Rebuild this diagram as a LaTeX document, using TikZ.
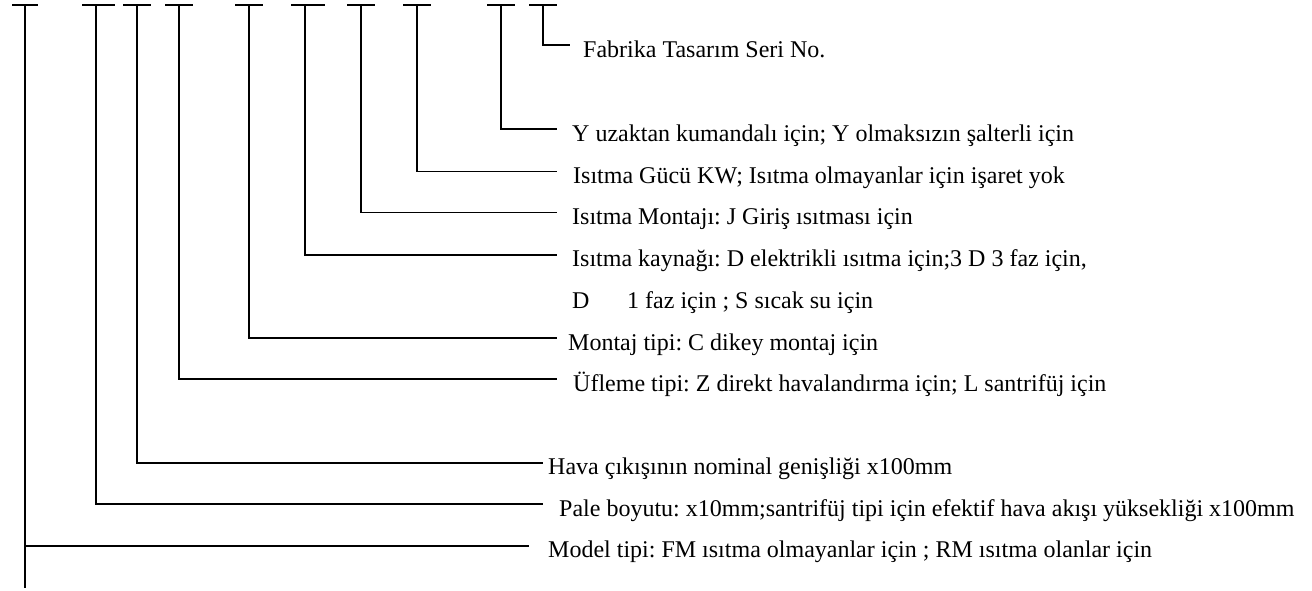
\documentclass[tikz,border=0pt]{standalone}
\usepackage{fontspec}
\setmainfont{Liberation Serif}
\frenchspacing
\begin{document}
\begin{tikzpicture}[x=1pt,y=-1pt,
  ln/.style={line width=1.8pt,line cap=butt},
  lbl/.style={anchor=base west,inner sep=0pt,font=\fontsize{24}{28}\selectfont\frenchspacing}]
\useasboundingbox (0,0) rectangle (1312,590);
% T tops
\coordinate (t1) at (25,5);
\coordinate (t2) at (96,5);
\coordinate (t3) at (137,5);
\coordinate (t4) at (179,5);
\coordinate (t5) at (249,5);
\coordinate (t6) at (305,5);
\coordinate (t7) at (361,5);
\coordinate (t8) at (417,5);
\coordinate (t9) at (501,5);
\coordinate (t10) at (543,5);
\foreach \c/\a/\b in {t1/12/38, t2/82/115, t3/123/151, t4/165/193, t5/235/263, t6/291/325, t7/347/375, t8/403/431, t9/487/515, t10/529/557}
  \draw[ln] (\a,5) -- (\b,5);
% line ends
\coordinate (e10) at (570,45);
\coordinate (e9) at (557,129);
\coordinate (e8) at (557,171.5);
\coordinate (e7) at (557,212.5);
\coordinate (e6) at (557,255);
\coordinate (e5) at (557,338);
\coordinate (e4) at (557,379);
\coordinate (e3) at (543,463);
\coordinate (e2) at (543,504);
\coordinate (e1) at (529,546);
\coordinate (bot) at (25,588);
\draw[ln] (t10) |- (e10);
\draw[ln] (t9) |- (e9);
\draw[ln] (t8) |- (e8);
\draw[ln] (t7) |- (e7);
\draw[ln] (t6) |- (e6);
\draw[ln] (t5) |- (e5);
\draw[ln] (t4) |- (e4);
\draw[ln] (t3) |- (e3);
\draw[ln] (t2) |- (e2);
\draw[ln] (t1) -- (bot);
\draw[ln] (t1 |- e1) -- (e1);
% labels
\node[lbl] (l10) at (583,57) {Fabrika Tasarım Seri No.};
\node[lbl] (l9) at (572,141) {Y uzaktan kumandalı için; Y olmaksızın şalterli için};
\node[lbl] (l8) at (573,183) {Isıtma Gücü KW; Isıtma olmayanlar için işaret yok};
\node[lbl] (l7) at (572,224) {Isıtma Montajı: J Giriş ısıtması için};
\node[lbl] (l6) at (572,266) {Isıtma kaynağı: D elektrikli ısıtma için;3 D 3 faz için,};
\node[lbl] (l6b) at (572,308) {D};
\node[lbl] (l6c) at (627,308) {1 faz için ; S sıcak su için};
\node[lbl] (l5) at (568,350) {Montaj tipi: C dikey montaj için};
\node[lbl] (l4) at (573,391) {Üfleme tipi: Z direkt havalandırma için; L santrifüj için};
\node[lbl] (l3) at (548,474.5) {Hava çıkışının nominal genişliği x100mm};
\node[lbl] (l2) at (559,516) {Pale boyutu: x10mm;santrifüj tipi için efektif hava akışı yüksekliği x100mm};
\node[lbl] (l1) at (548,557.5) {Model tipi: FM ısıtma olmayanlar için ; RM ısıtma olanlar için};
\end{tikzpicture}
\end{document}
